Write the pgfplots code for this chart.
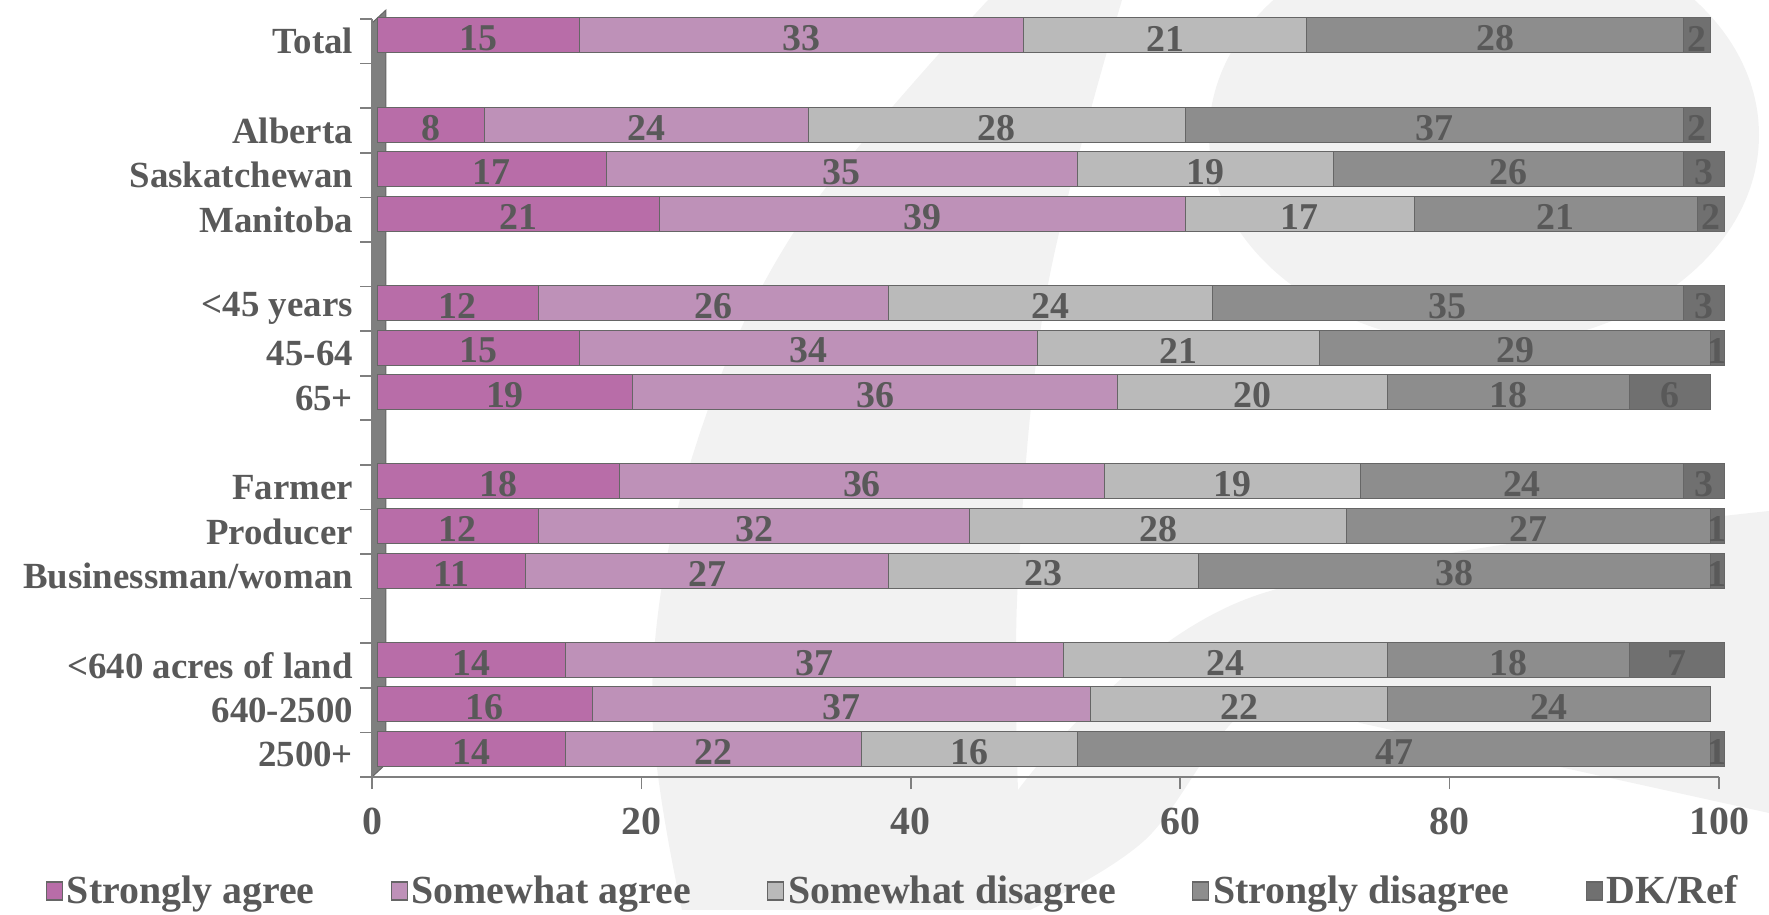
\documentclass[border=0pt]{standalone}
\usepackage{pgfplots}
\pgfplotsset{compat=1.18}
\usepackage{pgfplotstable}
\usepackage{fontspec}
\setmainfont{Liberation Serif}
\definecolor{txt}{HTML}{595959}
\definecolor{bggray}{HTML}{F2F2F2}
\definecolor{axgray}{HTML}{7F7F7F}
\definecolor{cSA}{RGB}{184,109,168}
\definecolor{cSWA}{RGB}{190,145,184}
\definecolor{cSWD}{RGB}{186,186,186}
\definecolor{cSD}{RGB}{141,141,141}
\definecolor{cDK}{RGB}{112,112,112}

\pgfplotstableread{
y SA SWA SWD SD DK
16 15 33 21 28 2
14 8 24 28 37 2
13 17 35 19 26 3
12 21 39 17 21 2
10 12 26 24 35 3
9 15 34 21 29 1
8 19 36 20 18 6
6 18 36 19 24 3
5 12 32 28 27 1
4 11 27 23 38 1
2 14 37 24 18 7
1 16 37 22 24 0
0 14 22 16 47 1
}\datatable

\pgfplotsset{
  mybar/.style={
    draw=black!60, line width=0.5bp,
    fill=#1,
    xshift=2.5bp,
    legend image code/.code={\draw[##1, xshift=-2.5bp, line width=0.6bp] (0bp,-4.5bp) rectangle (8bp,4.5bp);},
  },
}

\begin{document}
\begin{tikzpicture}
\begin{scope}[shift={(-186bp,388.5bp)},x=0.5bp,y=-0.5bp]
  \path[use as bounding box] (0,0) rectangle (1769,910);
  \fill[bggray] plot[smooth, tension=0.6] coordinates {(988,0) (794,232) (690,464) (652,696) (682,910)}
     -- (1030,910)
     -- plot[smooth, tension=0.6] coordinates {(1030,910) (1145,840) (1250,708) (1360,723)}
     -- (1769,813) -- (1769,511)
     -- plot[smooth, tension=0.6] coordinates {(1769,511) (1249,598) (1018,790)}
     -- plot[smooth, tension=0.6] coordinates {(1018,790) (1018,580) (1047,290) (1122,0)}
     -- cycle;
  \fill[bggray] (1484,135) ellipse [x radius=275, y radius=210];
  \fill[axgray, draw=black!60, line width=0.5bp] (372,777) -- (372,23) -- (386,10) -- (386,764) -- cycle;
\end{scope}
\begin{axis}[
  at={(0,0)}, anchor=south west,
  width=673.5bp, height=379bp, scale only axis,
  xmin=0, xmax=100, ymin=-0.5, ymax=16.5,
  xbar stacked, bar width=17.5bp, bar shift=2.9bp,
  axis x line*=bottom, axis y line*=left,
  axis line style={draw=axgray, line width=0.8bp},
  clip=false,
  xtick={0,20,...,100},
  ytick={0,1,2,4,5,6,8,9,10,12,13,14,16},
  yticklabels={2500+,640-2500,<640 acres of land,Businessman/woman,Producer,Farmer,65+,45-64,<45 years,Manitoba,Saskatchewan,Alberta,Total},
  minor ytick={-0.5,0.5,...,16.5},
  tick align=outside,
  major tick length=6bp, minor tick length=6bp,
  major y tick style={draw=none},
  minor y tick style={draw=axgray, line width=0.8bp},
  major x tick style={draw=axgray, line width=0.8bp},
  /pgf/number format/assume math mode=true,
  xticklabel style={font=\bfseries\fontsize{20}{24}\selectfont, text=txt, yshift=-6bp},
  yticklabel style={font=\bfseries\fontsize{18.5}{22}\selectfont, text=txt},
  point meta=rawx,
  nodes near coords={\pgfmathfloatifflags{\pgfplotspointmeta}{0}{}{\pgfmathprintnumber{\pgfplotspointmeta}}},
  every node near coord/.append style={anchor=center, yshift=-1.5bp, font=\bfseries\fontsize{19}{22}\selectfont, text=txt},
  legend columns=5,
  legend style={at={(0.3872,-0.1504)}, anchor=center, draw=none, fill=none,
     font=\bfseries\fontsize{20}{24}\selectfont, text=txt,
     /tikz/every even column/.append style={column sep=36bp}},
  legend cell align=left,
]
\addplot[mybar=cSA] table[x=SA,y=y] \datatable;
\addplot[mybar=cSWA] table[x=SWA,y=y] \datatable;
\addplot[mybar=cSWD] table[x=SWD,y=y] \datatable;
\addplot[mybar=cSD] table[x=SD,y=y] \datatable;
\addplot[mybar=cDK] table[x=DK,y=y] \datatable;
\legend{Strongly agree,Somewhat agree,Somewhat disagree,Strongly disagree,DK/Ref}
\end{axis}
\end{tikzpicture}
\end{document}
